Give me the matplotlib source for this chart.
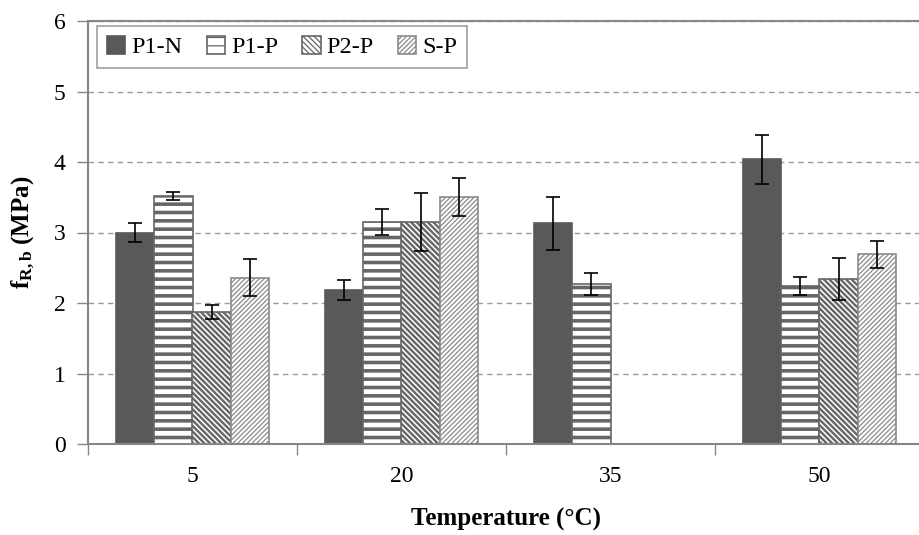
import numpy as np
import matplotlib
matplotlib.use("Agg")
import matplotlib.pyplot as plt

plt.rcParams['font.family'] = ['Liberation Serif', 'DejaVu Serif']
plt.rcParams['mathtext.fontset'] = 'custom'
plt.rcParams['mathtext.rm'] = 'Liberation Serif'
plt.rcParams['mathtext.bf'] = 'Liberation Serif:bold'
plt.rcParams['mathtext.it'] = 'Liberation Serif:italic'

categories = ['5', '20', '35', '50']
series = ['P1-N', 'P1-P', 'P2-P', 'S-P']
values = {
    'P1-N': [3.00, 2.18, 3.13, 4.04],
    'P1-P': [3.52, 3.15, 2.27, 2.24],
    'P2-P': [1.87, 3.15, np.nan, 2.34],
    'S-P':  [2.36, 3.51, np.nan, 2.69],
}
errors = {
    'P1-N': [0.13, 0.14, 0.38, 0.35],
    'P1-P': [0.06, 0.18, 0.15, 0.13],
    'P2-P': [0.10, 0.41, np.nan, 0.30],
    'S-P':  [0.26, 0.27, np.nan, 0.19],
}

styles = {
    'P1-N': dict(color='#595959', edgecolor='#595959', hatch=None, hlw=1.0),
    'P1-P': dict(color='white', edgecolor='#666666', hatch='--', hlw=2.6),
    'P2-P': dict(color='white', edgecolor='#666666', hatch='\\' * 6, hlw=1.7),
    'S-P':  dict(color='white', edgecolor='#8a8a8a', hatch='/' * 7, hlw=0.9),
}

fig = plt.figure(figsize=(9.2, 5.35), dpi=100)
ax = fig.add_axes([88/920, 91/535, 836/920, 423/535])

x = np.arange(len(categories))
w = 0.182
for i, s in enumerate(series):
    st = styles[s]
    plt.rcParams['hatch.linewidth'] = st['hlw']
    xs = x + (i - 1.5) * w
    ax.bar(xs, values[s], w, color=st['color'], edgecolor=st['edgecolor'],
           hatch=st['hatch'], linewidth=1.2, label=s, zorder=2)
    ax.errorbar(xs, values[s], yerr=errors[s], fmt='none', ecolor='black',
                elinewidth=1.2, capsize=5, capthick=1.2, zorder=3)

ax.set_xlim(-0.5, 3.5)
ax.set_ylim(0, 6)
ax.set_yticks(range(7))
ax.set_xticks(x)
ax.set_xticklabels(categories)
ax.set_xticks([-0.5, 0.5, 1.5, 2.5, 3.5], minor=True)
ax.tick_params(axis='x', which='major', length=0, pad=16, labelsize=17)
ax.tick_params(axis='x', which='minor', length=8, color='#868686', width=1)
ax.tick_params(axis='y', length=8, color='#868686', width=1, labelsize=17, pad=8)
ax.yaxis.grid(True, linestyle=(0, (4, 3)), color='#9a9a9a', linewidth=1, zorder=0)
ax.set_axisbelow(True)
for sp in ['left', 'bottom', 'top']:
    ax.spines[sp].set_color('#868686')
    ax.spines[sp].set_linewidth(1.5)
ax.spines['right'].set_visible(False)

ax.set_xlabel('Temperature (°C)', fontsize=18, fontweight='bold', labelpad=15)
ax.set_ylabel(r'$\mathbf{f_{R,b}}$ (MPa)', fontsize=18, fontweight='bold', labelpad=12)

leg = ax.legend(loc='upper left', bbox_to_anchor=(0.011, 0.988), ncol=4,
                fontsize=17.5, frameon=True, fancybox=False, edgecolor='#868686',
                handlelength=0.75, handleheight=0.75, handletextpad=0.25,
                columnspacing=1.0, borderpad=0.4, borderaxespad=0)
leg.get_frame().set_linewidth(1.2)

fig.savefig('out.png', dpi=100)
